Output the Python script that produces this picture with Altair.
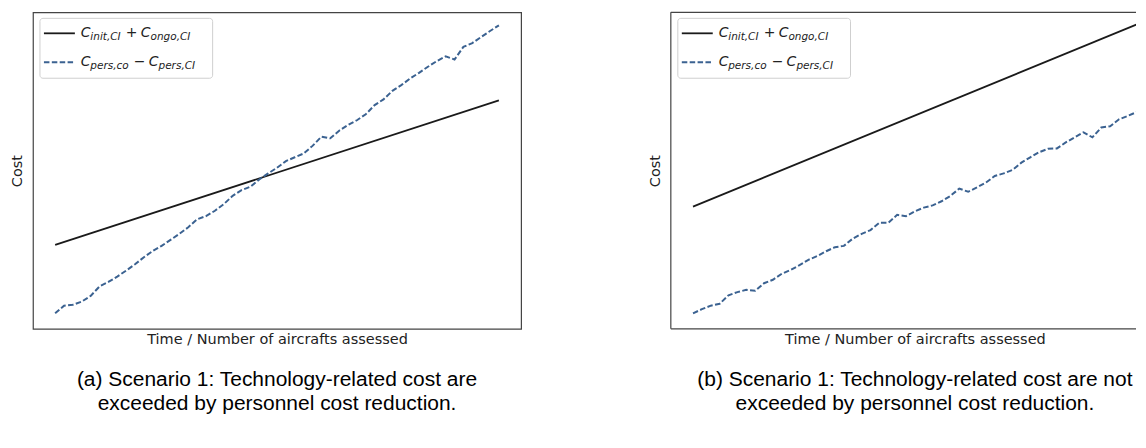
import altair as alt
import pandas as pd

# ---------------- data ----------------
t_line = [0, 100]
a_black = [26.5, 72.2]
b_black = [38.6, 96.2]

t_noisy = list(range(0, 101, 2))
a_blue = [4.9, 7.3, 7.6, 8.6, 10.4, 13.4, 14.8, 16.5, 18.4, 20.4,
          22.6, 24.6, 26.2, 28.1, 30.0, 32.1, 34.6, 35.6, 37.3, 39.4,
          42.0, 43.8, 44.9, 47.2, 49.1, 50.9, 53.0, 54.2, 55.4, 57.8,
          60.7, 60.2, 62.6, 64.4, 65.9, 67.8, 70.7, 72.5, 75.2, 77.0,
          79.1, 80.9, 82.8, 84.6, 86.1, 85.1, 89.1, 90.3, 92.2, 94.1,
          95.9]
b_blue = [4.9, 6.2, 7.3, 7.9, 10.6, 11.6, 12.3, 12.0, 14.4, 15.5,
          17.4, 18.6, 20.1, 21.8, 23.0, 24.5, 25.8, 26.2, 28.5, 30.0,
          31.2, 33.5, 33.5, 36.0, 35.6, 37.1, 38.3, 39.0, 40.3, 42.0,
          44.3, 43.3, 44.7, 46.2, 48.3, 49.1, 50.2, 52.5, 54.2, 55.8,
          56.9, 57.0, 58.9, 60.5, 62.1, 60.5, 63.6, 64.0, 66.2, 67.3,
          68.5]

captions = [
    ["(a) Scenario 1: Technology-related cost are",
     "exceeded by personnel cost reduction."],
    ["(b) Scenario 1: Technology-related cost are not",
     "exceeded by personnel cost reduction."],
]

BLACK = "#1a1a1a"
BLUE = "#3b6291"
FRAME = "#444444"
DASH = [5.5, 2.4]
H = 317
FULL_W = 489
RIGHT_W = 466
one = pd.DataFrame({"k": [0]})


def txt(s, x, y, size):
    return alt.Chart(one).mark_text(
        text=s, font="DejaVu Sans", fontStyle="italic", fontSize=size,
        align="left", baseline="middle", color="#222222"
    ).encode(x=alt.value(x), y=alt.value(y))


def legend_layers():
    box = alt.Chart(one).mark_rect(
        fill="white", fillOpacity=0.85, stroke="#cfcfcf", strokeWidth=1, cornerRadius=3
    ).encode(x=alt.value(7), x2=alt.value(180), y=alt.value(6), y2=alt.value(66))
    s1 = alt.Chart(one).mark_rule(color=BLACK, strokeWidth=1.8).encode(
        x=alt.value(11), x2=alt.value(42), y=alt.value(21))
    s2 = alt.Chart(one).mark_rule(color=BLUE, strokeWidth=1.8, strokeDash=DASH).encode(
        x=alt.value(11), x2=alt.value(42), y=alt.value(50))
    r1, r2 = 21, 50
    parts = [
        txt("C", 48, r1, 14), txt("init,CI", 57.5, r1 + 4, 10.5),
        txt("+", 93, r1, 14), txt("C", 108, r1, 14), txt("ongo,CI", 117.8, r1 + 4, 10.5),
        txt("C", 48, r2, 14), txt("pers,co", 57.5, r2 + 4, 10.5),
        txt("\u2212", 101, r2, 14), txt("C", 116, r2, 14), txt("pers,CI", 125.8, r2 + 4, 10.5),
    ]
    return [box, s1, s2] + parts


def frame_layers(w):
    left = alt.Chart(one).mark_rule(color=FRAME, strokeWidth=1.2).encode(
        x=alt.value(0), y=alt.value(0), y2=alt.value(H))
    top = alt.Chart(one).mark_rule(color=FRAME, strokeWidth=1.2).encode(
        x=alt.value(0), x2=alt.value(w), y=alt.value(0))
    bottom = alt.Chart(one).mark_rule(color=FRAME, strokeWidth=1.2).encode(
        x=alt.value(0), x2=alt.value(w), y=alt.value(H))
    return [left, top, bottom]


def panel(black, blue, caption, w, shift):
    line_df = pd.DataFrame({"t": t_line, "cost": black})
    noisy_df = pd.DataFrame({"t": t_noisy, "cost": blue})
    xmax = -5 + 110 * w / FULL_W
    axis_kw = dict(title="Time / Number of aircrafts assessed", labels=False,
                   ticks=False, grid=False, domain=False, titlePadding=4)
    if shift:
        axis_kw["titleX"] = FULL_W / 2
    xs = alt.X("t:Q", scale=alt.Scale(domain=[-5, xmax], nice=False, zero=False),
               axis=alt.Axis(**axis_kw))
    ys = alt.Y("cost:Q", scale=alt.Scale(domain=[0, 100], nice=False, zero=False),
               axis=alt.Axis(title="Cost", labels=False, ticks=False, grid=False,
                             domain=False, titlePadding=8))
    black_layer = alt.Chart(line_df).mark_line(color=BLACK, strokeWidth=1.8, clip=True).encode(x=xs, y=ys)
    blue_layer = alt.Chart(noisy_df).mark_line(
        color=BLUE, strokeWidth=2, strokeDash=DASH, clip=True).encode(x="t:Q", y="cost:Q")
    layers = [black_layer, blue_layer] + legend_layers()
    props = dict(
        width=w, height=H,
        title=alt.TitleParams(text=caption, orient="bottom", anchor="middle", frame="group",
                              font="Liberation Sans", fontSize=21, fontWeight="normal",
                              lineHeight=24, offset=23, color="black",
                              dx=(FULL_W - w) / 2),
    )
    if shift:
        layers += frame_layers(w)
        props["view"] = alt.ViewBackground(stroke="transparent")
    return alt.layer(*layers).properties(**props)


chart = alt.hconcat(
    panel(a_black, a_blue, captions[0], FULL_W, False),
    panel(b_black, b_blue, captions[1], RIGHT_W, True),
    spacing=125,
).properties(
    padding={"left": 1, "top": 2, "right": 0, "bottom": 0},
    background="white",
).configure_view(
    stroke=FRAME, strokeWidth=1.2
).configure_axis(
    titleFont="DejaVu Sans", titleFontSize=14.5, titleFontWeight="normal", titleColor="#222222"
)

chart.save("out.html", embed_options={"renderer": "svg", "actions": False})
